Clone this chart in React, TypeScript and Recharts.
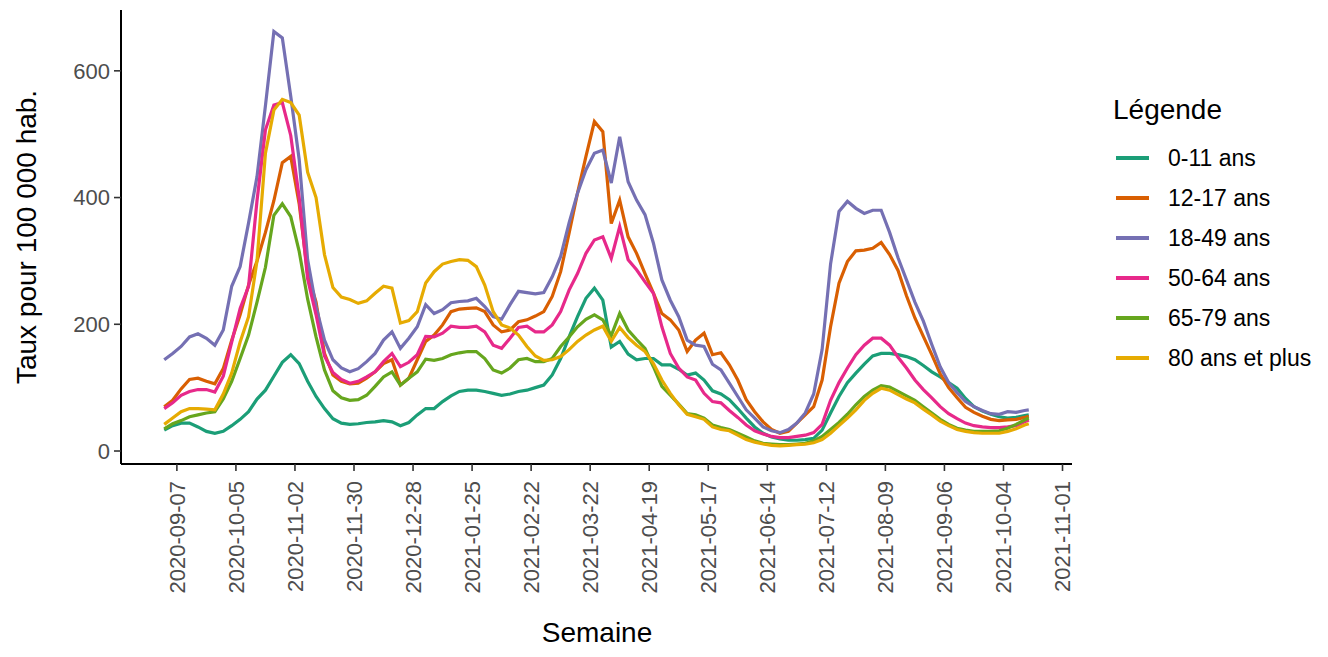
import { LineChart, Line, XAxis, YAxis, Legend } from "recharts";

// days since 2020-09-07 (one reading every 4 days)
const days = [
  -6, -2, 2, 6, 10, 14, 18, 22, 26, 30, 34, 38, 42, 46, 50, 54, 58, 62, 66, 70, 74, 78, 82,
  86, 90, 94, 98, 102, 106, 110, 114, 118, 122, 126, 130, 134, 138, 142, 146, 150, 154, 158, 162, 166, 170,
  174, 178, 182, 186, 190, 194, 198, 202, 206, 210, 214, 218, 222, 226, 230, 234, 238, 242, 246, 250, 254, 258,
  262, 266, 270, 274, 278, 282, 286, 290, 294, 298, 302, 306, 310, 314, 318, 322, 326, 330, 334, 338,
  342, 346, 350, 354, 358, 362, 366, 370, 374, 378, 382, 386, 390, 394, 398, 402, 404,
];

const age0_11 = [
  33, 40, 44, 44, 38, 31, 28, 31, 40, 50, 62, 82, 96, 118, 140, 152, 138, 110, 86, 67, 51, 44, 42,
  43, 45, 46, 48, 46, 40, 45, 57, 67, 67, 78, 87, 94, 96, 96, 94, 91, 88, 90, 94, 96, 100,
  104, 120, 146, 180, 212, 241, 257, 238, 164, 173, 153, 144, 146, 146, 136, 136, 129, 120, 123, 112, 95, 90,
  81, 67, 52, 38, 28, 22, 19, 17, 17, 18, 20, 33, 60, 86, 108, 123, 137, 150, 154, 154,
  152, 149, 144, 135, 125, 117, 108, 99, 83, 70, 63, 58, 54, 52, 53, 56, 57,
];

const age12_17 = [
  70, 80, 98, 113, 115, 110, 106, 130, 175, 215, 262, 300, 345, 395, 455, 465, 390, 280, 235, 154, 120, 110, 106,
  107, 115, 125, 138, 144, 104, 115, 144, 173, 183, 199, 220, 224, 225, 226, 220, 199, 188, 191, 204, 207, 213,
  220, 244, 283, 344, 407, 465, 520, 504, 359, 396, 338, 312, 280, 249, 217, 207, 191, 157, 175, 186, 152, 155,
  136, 112, 81, 62, 46, 34, 28, 31, 44, 57, 70, 112, 196, 265, 299, 316, 317, 320, 329, 310,
  285, 245, 210, 181, 152, 122, 100, 84, 69, 61, 55, 50, 48, 49, 50, 53, 55,
];

const age18_49 = [
  144, 154, 165, 180, 185, 178, 167, 191, 260, 291, 360, 433, 545, 662, 652, 560, 460, 302, 228, 175, 144, 131, 125,
  130, 141, 154, 175, 188, 162, 178, 196, 231, 217, 223, 234, 236, 237, 241, 228, 212, 208, 231, 252, 250, 248,
  250, 275, 307, 360, 407, 444, 470, 475, 423, 496, 425, 396, 373, 328, 270, 238, 212, 175, 167, 165, 137, 128,
  107, 86, 65, 52, 38, 32, 29, 34, 44, 60, 90, 160, 295, 378, 394, 383, 375, 380, 380, 345,
  305, 270, 235, 205, 168, 133, 108, 92, 78, 70, 64, 59, 58, 62, 61, 64, 65,
];

const age50_64 = [
  67, 76, 88, 94, 97, 97, 93, 118, 172, 225, 260, 395, 507, 546, 550, 498, 400, 272, 215, 150, 124, 113, 107,
  110, 117, 125, 141, 154, 133, 140, 152, 181, 180, 186, 197, 195, 195, 197, 188, 167, 162, 178, 195, 197, 188,
  188, 199, 220, 254, 280, 312, 333, 338, 304, 354, 302, 286, 267, 249, 196, 154, 131, 117, 112, 91, 78, 76,
  64, 53, 41, 32, 27, 23, 21, 21, 23, 25, 29, 42, 80, 108, 131, 152, 167, 178, 178, 167,
  148, 131, 112, 97, 84, 70, 59, 51, 44, 40, 38, 37, 37, 38, 40, 46, 49,
];

const age65_79 = [
  35, 43, 48, 54, 57, 60, 62, 82, 110, 146, 183, 235, 290, 372, 390, 370, 315, 240, 180, 128, 95, 84, 80,
  81, 88, 102, 117, 125, 104, 115, 125, 145, 143, 146, 152, 155, 157, 157, 146, 128, 123, 131, 144, 146, 141,
  141, 146, 165, 180, 196, 208, 215, 207, 182, 217, 191, 176, 162, 133, 102, 88, 74, 59, 57, 52, 41, 37,
  34, 28, 22, 16, 12, 11, 10, 10, 11, 12, 16, 23, 34, 45, 58, 73, 86, 96, 103, 101,
  94, 87, 80, 70, 60, 50, 42, 36, 33, 31, 31, 31, 32, 36, 42, 49, 52,
];

const age80 = [
  42, 52, 62, 67, 67, 66, 65, 90, 123, 172, 212, 300, 470, 538, 555, 550, 530, 440, 400, 310, 258, 243, 239,
  233, 237, 249, 260, 257, 202, 206, 220, 265, 283, 295, 299, 302, 301, 291, 262, 220, 199, 194, 183, 165, 150,
  143, 144, 149, 160, 173, 183, 191, 197, 173, 195, 179, 167, 157, 138, 112, 91, 73, 58, 54, 50, 38, 34,
  32, 25, 18, 14, 11, 9, 8, 9, 10, 11, 13, 18, 28, 40, 52, 65, 80, 91, 99, 96,
  89, 82, 76, 66, 57, 47, 40, 34, 31, 29, 28, 28, 28, 31, 35, 41, 43,
];

const xTicks = [0, 28, 56, 84, 112, 140, 168, 196, 224, 252, 280, 308, 336, 364, 392, 420];
const yTicks = [0, 200, 400, 600];

const groups = [
  { key: "a", name: "0-11 ans", color: "#1B9E77", values: age0_11 },
  { key: "b", name: "12-17 ans", color: "#D95F02", values: age12_17 },
  { key: "c", name: "18-49 ans", color: "#7570B3", values: age18_49 },
  { key: "d", name: "50-64 ans", color: "#E7298A", values: age50_64 },
  { key: "e", name: "65-79 ans", color: "#66A61E", values: age65_79 },
  { key: "f", name: "80 ans et plus", color: "#E6AB02", values: age80 },
];

const data = days.map((d, i) => {
  const row: Record<string, number> = { day: d };
  groups.forEach((g) => (row[g.key] = g.values[i]));
  return row;
});

const FONT = "'Liberation Sans', Arial, sans-serif";
const START = Date.UTC(2020, 8, 7);
const fmtDate = (d: number) => new Date(START + d * 86400000).toISOString().slice(0, 10);

const XTick = ({ x, y, payload }: any) => (
  <text
    transform={`translate(${x + 7.9},${y + 8}) rotate(-90)`}
    textAnchor="end"
    fontSize={22}
    fill="#4D4D4D"
    fontFamily={FONT}
  >
    {fmtDate(payload.value)}
  </text>
);

const renderLegend = () => (
  <div style={{ position: "relative", width: 215, height: 300, fontFamily: FONT, color: "#000" }}>
    <div style={{ position: "absolute", left: 0, top: 8, fontSize: 28, lineHeight: "28px", whiteSpace: "nowrap" }}>Légende</div>
    {groups.map((g, i) => (
      <div
        key={g.key}
        style={{ position: "absolute", left: 3, top: 58 + i * 40, height: 24, display: "flex", alignItems: "center", whiteSpace: "nowrap" }}
      >
        <span style={{ display: "inline-block", width: 33, height: 4, background: g.color }} />
        <span style={{ marginLeft: 19, fontSize: 23, lineHeight: "24px" }}>{g.name}</span>
      </div>
    ))}
  </div>
);

export default function App() {
  return (
    <LineChart
      width={1312}
      height={641}
      data={data}
      margin={{ top: 2, right: 248, bottom: 0, left: 0 }}
      style={{ fontFamily: FONT }}
    >
      <XAxis
        dataKey="day"
        type="number"
        domain={[-26.5, 424.5]}
        allowDataOverflow
        ticks={xTicks}
        interval={0}
        height={185}
        tickSize={7}
        tick={<XTick />}
        axisLine={{ stroke: "#000", strokeWidth: 2 }}
        tickLine={{ stroke: "#333", strokeWidth: 1.6 }}
        label={{
          content: () => (
            <text x={589} y={634} textAnchor="middle" fontSize={28} fill="#000" fontFamily={FONT}>
              Semaine
            </text>
          ),
        }}
      />
      <YAxis
        type="number"
        domain={[-20.5, 696]}
        allowDataOverflow
        ticks={yTicks}
        width={113}
        tickSize={7}
        tickMargin={4}
        tick={{ fontSize: 22, fill: "#4D4D4D", fontFamily: FONT }}
        axisLine={{ stroke: "#000", strokeWidth: 2 }}
        tickLine={{ stroke: "#333", strokeWidth: 1.6 }}
        label={{
          content: () => (
            <text transform="translate(28,229) rotate(-90)" textAnchor="middle" fontSize={28} fill="#000" fontFamily={FONT}>
              Taux pour 100 000 hab.
            </text>
          ),
        }}
      />
      {groups.map((g) => (
        <Line
          key={g.key}
          dataKey={g.key}
          name={g.name}
          type="linear"
          stroke={g.color}
          strokeWidth={3.2}
          dot={false}
          activeDot={false}
          isAnimationActive={false}
        />
      ))}
      <Legend
        layout="vertical"
        align="center"
        verticalAlign="middle"
        content={renderLegend}
        wrapperStyle={{ left: 1105, top: 80, width: 215, height: 300 }}
      />
    </LineChart>
  );
}
